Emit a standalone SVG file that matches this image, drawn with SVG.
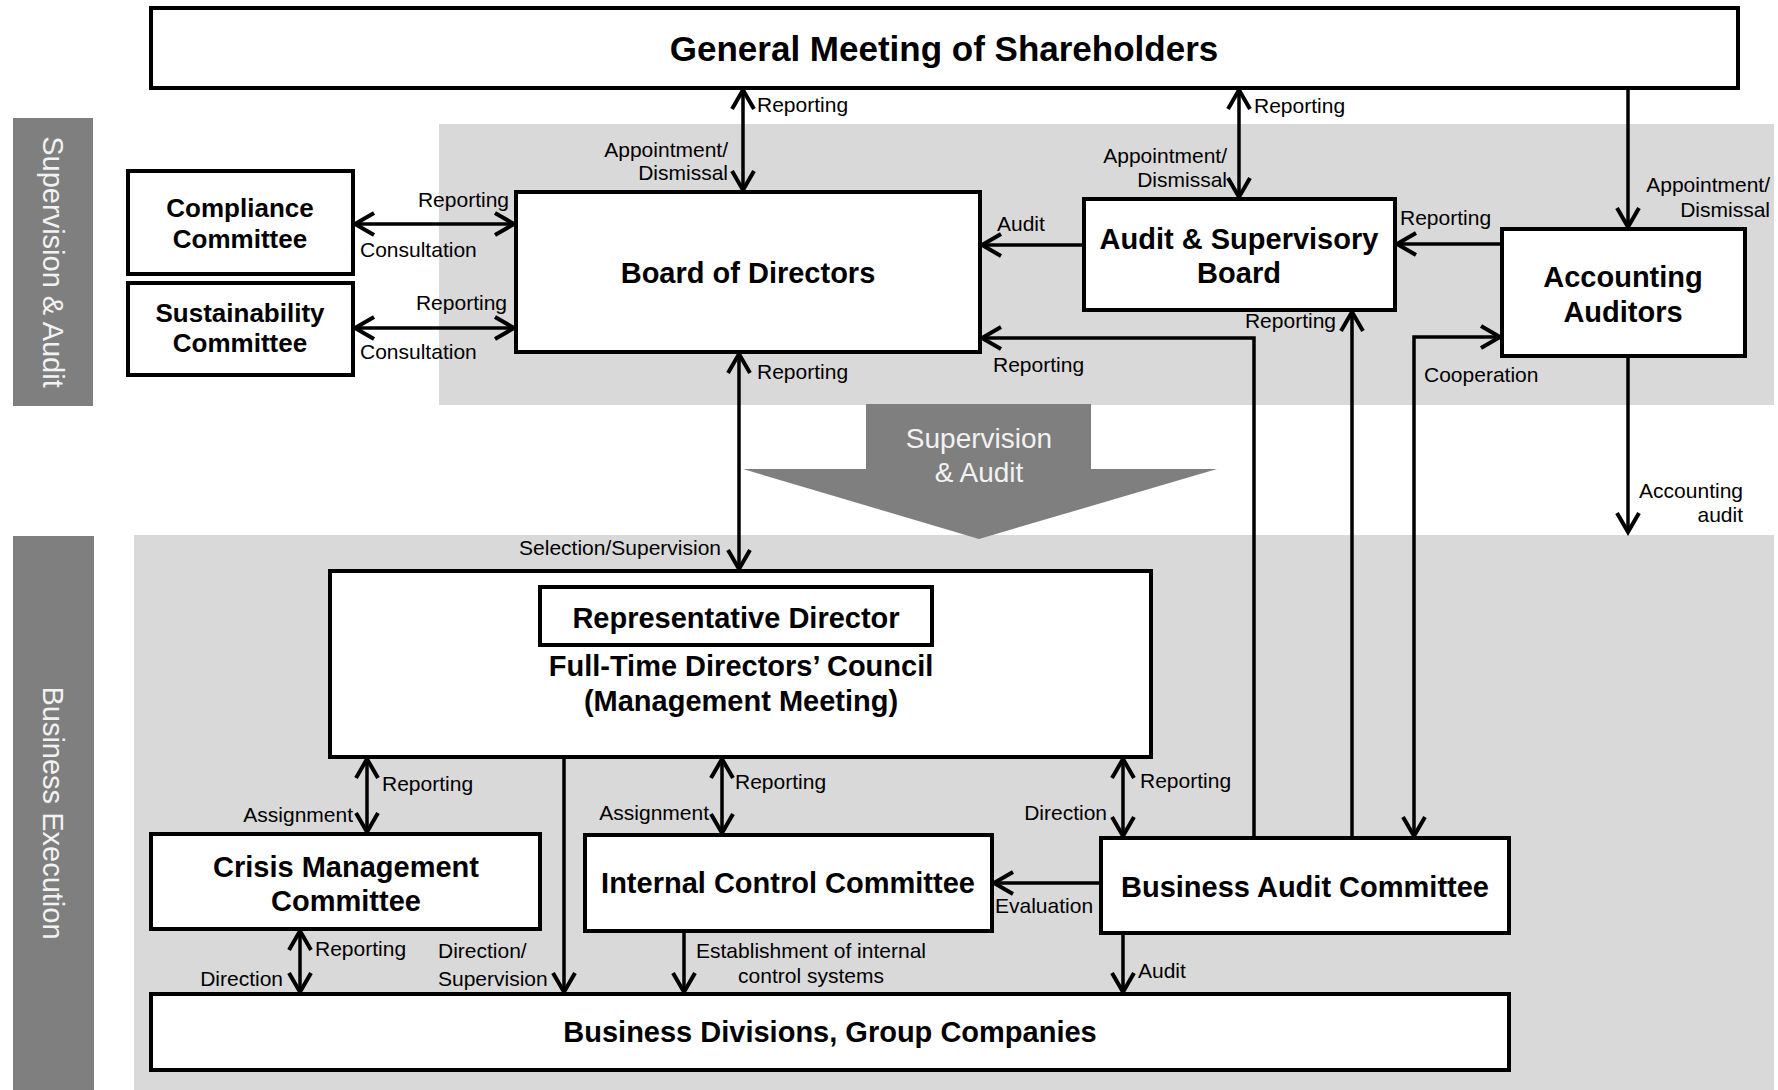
<svg xmlns="http://www.w3.org/2000/svg" width="1778" height="1090" viewBox="0 0 1778 1090">
<style>
.box{fill:#fff;stroke:#000;stroke-width:4}
.t{font-family:"Liberation Sans",Arial,sans-serif;font-weight:bold;font-size:29px;text-anchor:middle;fill:#000}
.s{font-size:26px}
.l{font-family:"Liberation Sans",Arial,sans-serif;font-size:21px;fill:#000}
.e{text-anchor:end}
.m{text-anchor:middle}
.c{fill:none;stroke:#000;stroke-width:3.5}
.band{fill:#7f7f7f}
.bt{font-family:"Liberation Sans",Arial,sans-serif;font-size:29px;fill:#f2f2f2;text-anchor:middle}
</style>
<defs>
<marker id="ah" viewBox="-24 -14 28 28" refX="0" refY="0" markerWidth="28" markerHeight="28" markerUnits="userSpaceOnUse" orient="auto-start-reverse">
<path d="M-19,-11 L0,0 L-19,11" fill="none" stroke="#000" stroke-width="4"/>
</marker>
</defs>
<rect width="1778" height="1090" fill="#fff"/>
<g id="backgrounds">
<rect x="439" y="124" width="1335" height="281" fill="#d9d9d9"/>
<rect x="134" y="535" width="1640" height="555" fill="#d9d9d9"/>
</g>
<g id="band-supervision">
<rect class="band" x="13" y="118" width="80" height="288"/>
<text class="bt" transform="translate(53,262) rotate(90)" dominant-baseline="central">Supervision &amp; Audit</text>
</g>
<g id="band-execution">
<rect class="band" x="13" y="536" width="81" height="554"/>
<text class="bt" transform="translate(53,813) rotate(90)" dominant-baseline="central">Business Execution</text>
</g>
<g id="big-arrow">
<polygon class="band" points="866,404 1091,404 1091,469 1217,469 979,539 743,469 866,469"/>
<text class="bt" style="font-size:28px" x="979" y="448">Supervision</text>
<text class="bt" style="font-size:28px" x="979" y="482">&amp; Audit</text>
</g>
<g id="gm">
<rect class="box" x="151" y="8" width="1587" height="80"/>
<text class="t" style="font-size:35px" x="944" y="61">General Meeting of Shareholders</text>
</g>
<g id="compliance">
<rect class="box" x="128" y="171" width="225" height="103"/>
<text class="t s" x="240" y="217">Compliance</text>
<text class="t s" x="240" y="248">Committee</text>
</g>
<g id="sustainability">
<rect class="box" x="128" y="283" width="225" height="92"/>
<text class="t s" x="240" y="322">Sustainability</text>
<text class="t s" x="240" y="352">Committee</text>
</g>
<g id="board">
<rect class="box" x="516" y="192" width="464" height="160"/>
<text class="t" x="748" y="283">Board of Directors</text>
</g>
<g id="asb">
<rect class="box" x="1084" y="199" width="311" height="111"/>
<text class="t" x="1239" y="249">Audit &amp; Supervisory</text>
<text class="t" x="1239" y="283">Board</text>
</g>
<g id="auditors">
<rect class="box" x="1502" y="229" width="243" height="127"/>
<text class="t" x="1623" y="287">Accounting</text>
<text class="t" x="1623" y="322">Auditors</text>
</g>
<g id="fulltime">
<rect class="box" x="330" y="571" width="821" height="186"/>
<text class="t" x="741" y="676">Full-Time Directors’ Council</text>
<text class="t" x="741" y="711">(Management Meeting)</text>
</g>
<g id="representative">
<rect class="box" x="540" y="587" width="392" height="58"/>
<text class="t" x="736" y="628">Representative Director</text>
</g>
<g id="crisis">
<rect class="box" x="151" y="834" width="389" height="95"/>
<text class="t" x="346" y="877">Crisis Management</text>
<text class="t" x="346" y="911">Committee</text>
</g>
<g id="internal">
<rect class="box" x="585" y="835" width="407" height="96"/>
<text class="t" x="788" y="893">Internal Control Committee</text>
</g>
<g id="bac">
<rect class="box" x="1101" y="838" width="408" height="95"/>
<text class="t" x="1305" y="897">Business Audit Committee</text>
</g>
<g id="divisions">
<rect class="box" x="151" y="994" width="1358" height="76"/>
<text class="t" x="830" y="1042">Business Divisions, Group Companies</text>
</g>
<g id="connectors">
<path class="c" d="M743 90 V190" marker-start="url(#ah)" marker-end="url(#ah)"/>
<path class="c" d="M1239 90 V197" marker-start="url(#ah)" marker-end="url(#ah)"/>
<path class="c" d="M1628 90 V227" marker-end="url(#ah)"/>
<path class="c" d="M355 224 H514" marker-start="url(#ah)" marker-end="url(#ah)"/>
<path class="c" d="M355 328 H514" marker-start="url(#ah)" marker-end="url(#ah)"/>
<path class="c" d="M1082 245 H982" marker-end="url(#ah)"/>
<path class="c" d="M1500 244 H1397" marker-end="url(#ah)"/>
<path class="c" d="M739 354 V569" marker-start="url(#ah)" marker-end="url(#ah)"/>
<path class="c" d="M1254 836 V338 H982" marker-end="url(#ah)"/>
<path class="c" d="M1352 836 V312" marker-end="url(#ah)"/>
<path class="c" d="M1500 337 H1414 V836" marker-start="url(#ah)" marker-end="url(#ah)"/>
<path class="c" d="M1628 358 V532" marker-end="url(#ah)"/>
<path class="c" d="M367 759 V832" marker-start="url(#ah)" marker-end="url(#ah)"/>
<path class="c" d="M722 759 V833" marker-start="url(#ah)" marker-end="url(#ah)"/>
<path class="c" d="M1123 759 V836" marker-start="url(#ah)" marker-end="url(#ah)"/>
<path class="c" d="M564 759 V992" marker-end="url(#ah)"/>
<path class="c" d="M300 931 V992" marker-start="url(#ah)" marker-end="url(#ah)"/>
<path class="c" d="M684 933 V992" marker-end="url(#ah)"/>
<path class="c" d="M1099 883 H994" marker-end="url(#ah)"/>
<path class="c" d="M1123 935 V992" marker-end="url(#ah)"/>
</g>
<g id="labels">
<text class="l" x="757" y="112">Reporting</text>
<text class="l e" x="728" y="157">Appointment/</text>
<text class="l e" x="728" y="180">Dismissal</text>
<text class="l" x="1254" y="113">Reporting</text>
<text class="l e" x="1227" y="163">Appointment/</text>
<text class="l e" x="1227" y="187">Dismissal</text>
<text class="l e" x="1770" y="192">Appointment/</text>
<text class="l e" x="1770" y="217">Dismissal</text>
<text class="l e" x="509" y="207">Reporting</text>
<text class="l" x="360" y="257">Consultation</text>
<text class="l e" x="507" y="310">Reporting</text>
<text class="l" x="360" y="359">Consultation</text>
<text class="l" x="997" y="231">Audit</text>
<text class="l" x="1400" y="225">Reporting</text>
<text class="l e" x="1336" y="328">Reporting</text>
<text class="l" x="993" y="372">Reporting</text>
<text class="l" x="1424" y="382">Cooperation</text>
<text class="l" x="757" y="379">Reporting</text>
<text class="l e" x="721" y="555">Selection/Supervision</text>
<text class="l e" x="1743" y="498">Accounting</text>
<text class="l e" x="1743" y="522">audit</text>
<text class="l" x="382" y="791">Reporting</text>
<text class="l e" x="353" y="822">Assignment</text>
<text class="l" x="735" y="789">Reporting</text>
<text class="l e" x="709" y="820">Assignment</text>
<text class="l" x="1140" y="788">Reporting</text>
<text class="l e" x="1107" y="820">Direction</text>
<text class="l" x="315" y="956">Reporting</text>
<text class="l e" x="283" y="986">Direction</text>
<text class="l" x="438" y="958">Direction/</text>
<text class="l" x="438" y="986">Supervision</text>
<text class="l m" x="811" y="958">Establishment of internal</text>
<text class="l m" x="811" y="983">control systems</text>
<text class="l" x="995" y="913">Evaluation</text>
<text class="l" x="1138" y="978">Audit</text>
</g>
</svg>
